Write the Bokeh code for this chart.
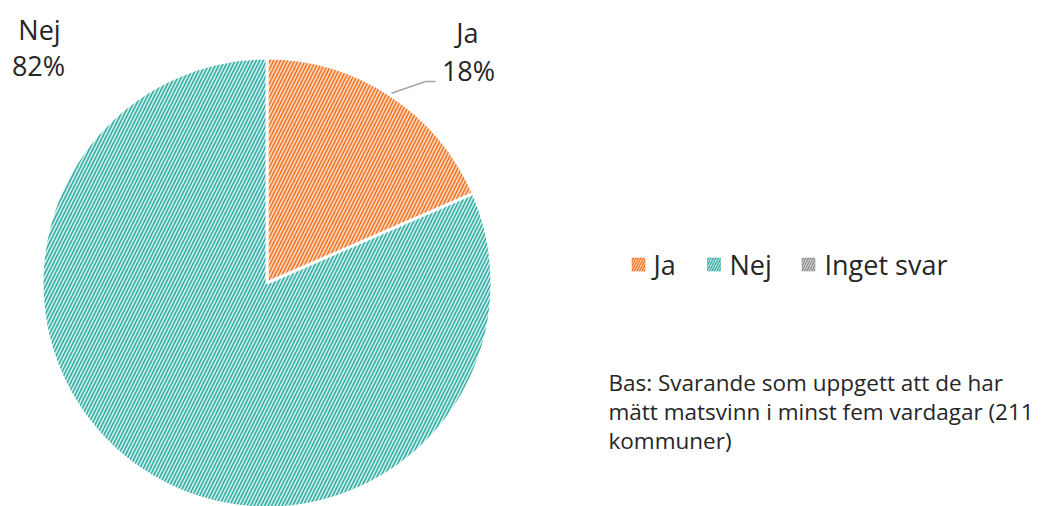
import math
from bokeh.plotting import figure
from bokeh.models import Range1d, ColumnDataSource
from bokeh.core.properties import value
from bokeh.embed import file_html
from bokeh.resources import INLINE

# ---- data ----
categories = ["Ja", "Nej", "Inget svar"]
counts = [39, 172, 0]
pct_labels = ["18%", "82%", ""]
fill_colors = ["#FCD5BC", "#C6EEEA", "#D9D9D9"]
hatch_colors = ["#F27320", "#35AAA0", "#8C8C8C"]
note_lines = [
    "Bas: Svarande som uppgett att de har",
    "mätt matsvinn i minst fem vardagar (211",
    "kommuner)",
]

W, H = 1052, 506
FONT = "Open Sans"

p = figure(width=W, height=H, output_backend="svg", toolbar_location=None,
           x_range=Range1d(0, W), y_range=Range1d(0, H), min_border=0)
p.axis.visible = False
p.grid.visible = False
p.outline_line_color = None
p.background_fill_color = "white"
p.border_fill_color = "white"

# image coords -> plot coords
def X(ix):
    return ix
def Y(iy):
    return H - iy

cx, cy, R = X(266.5), Y(282.5), 225

total = sum(counts)
starts, ends, mids = [], [], []
acc = 0.0
for c in counts:
    a_end = math.pi / 2 - 2 * math.pi * acc / total
    acc += c
    a_start = math.pi / 2 - 2 * math.pi * acc / total
    starts.append(a_start)
    ends.append(a_end)
    mids.append((a_start + a_end) / 2)

nz = [i for i, c in enumerate(counts) if c > 0]
src_nz = ColumnDataSource(dict(start=[starts[i] for i in nz], end=[ends[i] for i in nz],
                               fill=[fill_colors[i] for i in nz],
                               hatch=[hatch_colors[i] for i in nz]))
p.wedge(x=cx, y=cy, radius=R, start_angle="start", end_angle="end",
        fill_color="fill", line_color="white", line_width=3,
        hatch_pattern="/", hatch_color="hatch", hatch_scale=7, hatch_weight=1.5,
        source=src_nz)

# data labels
mj = mids[0]
sx, sy = cx + (R + 2) * math.cos(mj), cy + (R + 2) * math.sin(mj)
ex, ey = X(425), Y(81)
p.line(x=[sx, ex, ex + 10], y=[sy, ey, ey], line_color="#A6A6A6", line_width=1.5)
p.text(x=[X(467), X(468)], y=[Y(32), Y(70)], text=[categories[0], pct_labels[0]],
       text_font=value(FONT), text_font_size="27px", text_color="#262626",
       text_align="center", text_baseline="middle")
p.text(x=[X(39), X(38)], y=[Y(29), Y(65)], text=[categories[1], pct_labels[1]],
       text_font=value(FONT), text_font_size="27px", text_color="#262626",
       text_align="center", text_baseline="middle")

# legend
leg_marker_x = [X(638), X(713.5), X(808)]
leg_text_x = [X(653), X(729), X(824)]
ly = Y(264)
p.rect(x=leg_marker_x, y=[ly] * 3, width=13, height=13,
       fill_color=fill_colors, line_color=hatch_colors, line_width=0.5,
       hatch_pattern="/", hatch_color=hatch_colors, hatch_scale=5, hatch_weight=1.3)
p.text(x=leg_text_x, y=[ly] * 3, text=categories,
       text_font=value(FONT), text_font_size="27px", text_color="#262626",
       text_align="left", text_baseline="middle")

# note
p.text(x=[X(608)] * 3, y=[Y(382), Y(411), Y(440)], text=note_lines,
       text_font=value(FONT), text_font_size="22.5px", text_color="#262626",
       text_align="left", text_baseline="middle")

open("out.html", "w").write(file_html(p, INLINE))
